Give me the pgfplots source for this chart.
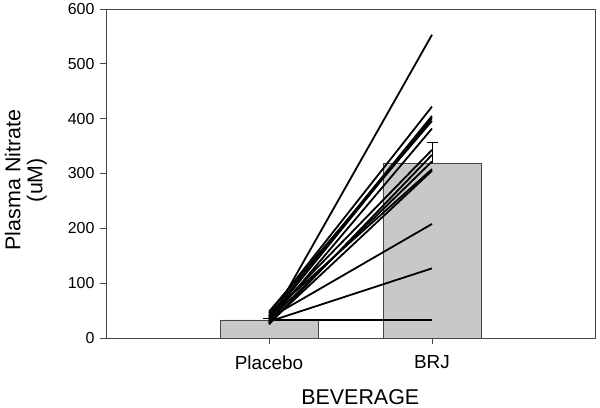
\documentclass[border=0pt]{standalone}
\usepackage{pgfplots}
\pgfplotsset{compat=1.18}
\usepackage{fontspec}
\setmainfont{Liberation Sans}

\definecolor{barfill}{RGB}{200,200,200}
\definecolor{axisgray}{RGB}{70,70,70}

\begin{document}
\begin{tikzpicture}
\useasboundingbox (-106bp,-70bp) rectangle (494bp,338bp);
\begin{axis}[
    at={(0,0)}, anchor=south west,
    scale only axis,
    width=489bp, height=329bp,
    xmin=0, xmax=3,
    ymin=0, ymax=600,
    xtick={1,2},
    xticklabels={Placebo,BRJ},
    ytick={0,100,...,600},
    tick align=outside,
    xtick pos=bottom, ytick pos=left,
    major tick length=6bp,
    axis line style={axisgray, line width=0.9bp},
    tick style={axisgray, line width=0.9bp},
    /pgf/number format/assume math mode=true,
    yticklabel style={font=\fontsize{16}{18}\selectfont, xshift=-2bp},
    xticklabel style={font=\fontsize{19}{21}\selectfont, yshift=-8bp},
    xlabel={BEVERAGE},
    ylabel={Plasma Nitrate\\(uM)},
    every axis x label/.style={at={(axis description cs:0.52,-0.179)}, anchor=center,
        font=\fontsize{21.5}{23}\selectfont},
    every axis y label/.style={at={(axis description cs:-0.164,0.48)}, rotate=90,
        anchor=center, align=center, font=\fontsize{21.5}{22}\selectfont},
    subj/.style={black, line width=1.8bp, mark=none},
]
    % group means with SE (upper only)
    \addplot[ybar, bar width=0.6, bar shift=0pt, fill=barfill, draw=axisgray, line width=0.8bp,
        error bars/.cd, y dir=plus, y explicit,
        error bar style={black, line width=0.9bp},
        error mark options={rotate=90, mark size=5.5bp, black, line width=0.9bp}]
        coordinates {(1,33) +- (0,3) (2,319) +- (0,37)};

    % individual subjects
    \addplot[subj] coordinates {(1,28) (2,553)};
    \addplot[subj] coordinates {(1,45) (2,422)};
    \addplot[subj] coordinates {(1,40) (2,405)};
    \addplot[subj] coordinates {(1,35) (2,401)};
    \addplot[subj] coordinates {(1,48) (2,396)};
    \addplot[subj] coordinates {(1,30) (2,382)};
    \addplot[subj] coordinates {(1,38) (2,343)};
    \addplot[subj] coordinates {(1,25) (2,334)};
    \addplot[subj] coordinates {(1,32) (2,322)};
    \addplot[subj] coordinates {(1,42) (2,308)};
    \addplot[subj] coordinates {(1,27) (2,305)};
    \addplot[subj] coordinates {(1,36) (2,208)};
    \addplot[subj] coordinates {(1,30) (2,127)};
    \addplot[subj] coordinates {(1,33) (2,33)};
\end{axis}
\end{tikzpicture}
\end{document}
